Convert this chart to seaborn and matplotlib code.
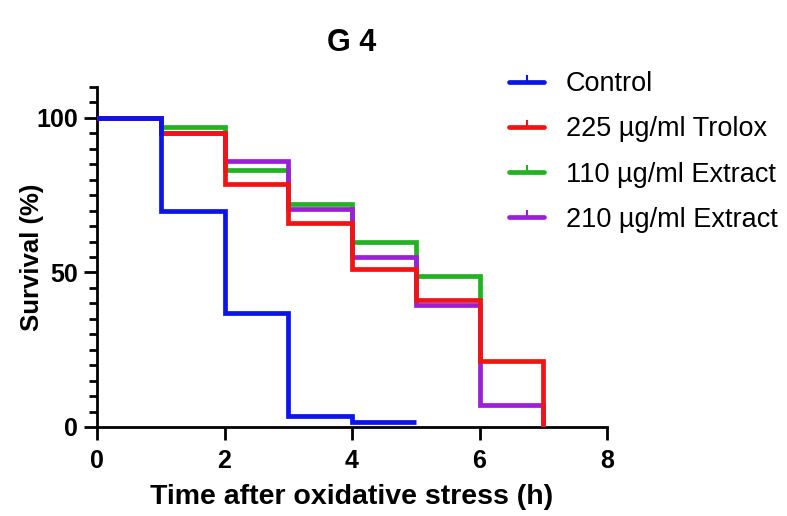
import matplotlib
matplotlib.use("Agg")
import matplotlib.pyplot as plt
from matplotlib.lines import Line2D
from matplotlib.ticker import MultipleLocator
import numpy as np
import pandas as pd
import seaborn as sns

# Survival (%) at the start of each hourly interval after oxidative stress
groups = ["Control", "225 µg/ml Trolox", "110 µg/ml Extract", "210 µg/ml Extract"]
control_time = [0, 1, 2, 3, 4, 5]
control_surv = [100, 70, 37, 3.5, 1.7, 1.7]
trolox_time = [0, 1, 2, 3, 4, 5, 6, 7]
trolox_surv = [100, 95, 78.5, 66, 51, 41, 21.5, 0]
ext110_time = [0, 1, 2, 3, 4, 5, 6]
ext110_surv = [100, 97, 83, 72, 60, 49, 41]
ext210_time = [0, 1, 2, 3, 4, 5, 6, 7]
ext210_surv = [100, 95, 86, 70.5, 55, 39.5, 7, 0]

colors = ["#0A14EB", "#F01414", "#22B322", "#9B1FD6"]

frames = []
for name, t, s in zip(groups,
                      [control_time, trolox_time, ext110_time, ext210_time],
                      [control_surv, trolox_surv, ext110_surv, ext210_surv]):
    frames.append(pd.DataFrame({"time": t, "survival": s, "group": name}))
df = pd.concat(frames, ignore_index=True)

sns.set_style("ticks")
plt.rcParams["font.family"] = ["Liberation Sans", "DejaVu Sans"]
plt.rcParams.update({"text.color": "black", "axes.labelcolor": "black",
                     "xtick.color": "black", "ytick.color": "black"})

fig = plt.figure(figsize=(7.87, 5.16), dpi=100)
ax = fig.add_axes([0.1233, 0.1725, 0.648, 0.659])

sns.lineplot(data=df, x="time", y="survival", hue="group", hue_order=groups,
             palette=colors, estimator=None, sort=False, drawstyle="steps-post",
             linewidth=3.4, legend=False, ax=ax)

# stacking: Trolox above the extracts, control on top
z = {0: 5, 1: 4, 2: 2, 3: 3}
for i, line in enumerate(ax.lines[:4]):
    line.set_zorder(z[i])
    line.set_solid_capstyle("butt")
    line.set_solid_joinstyle("miter")

ax.set_xlim(0, 8)
ax.set_ylim(0, 110)
ax.set_xticks([0, 2, 4, 6, 8])
ax.set_yticks([0, 50, 100])
ax.yaxis.set_minor_locator(MultipleLocator(5))
sns.despine(ax=ax)
for sp in ["left", "bottom"]:
    ax.spines[sp].set_linewidth(2.0)
    ax.spines[sp].set_color("black")
ax.tick_params(axis="both", which="major", length=9.5, width=2.0,
               labelsize=18, color="black")
ax.tick_params(axis="x", which="major", pad=6)
ax.tick_params(axis="y", which="major", pad=4)
ax.tick_params(axis="y", which="minor", length=5.5, width=2.0, color="black")
for lab in ax.get_xticklabels() + ax.get_yticklabels():
    lab.set_fontweight("bold")

ax.set_xlabel("Time after oxidative stress (h)", fontsize=20.5, fontweight="bold",
              labelpad=8)
ax.set_ylabel("Survival (%)", fontsize=18.5, fontweight="bold")
ax.yaxis.set_label_coords(-0.104, 0.5)
ax.set_title("G 4", fontsize=22, fontweight="bold", pad=26)

handles = [Line2D([0], [0], color=c, lw=3.4, marker=2, markersize=5,
                  markeredgewidth=1.5, markeredgecolor=c) for c in colors]
fig.legend(handles, groups, loc="upper left", bbox_to_anchor=(0.647, 0.862),
           frameon=False, fontsize=19.5, handlelength=1.3, handletextpad=0.78,
           labelspacing=0.71, borderpad=0, borderaxespad=0)

fig.savefig("out.png", dpi=100)
